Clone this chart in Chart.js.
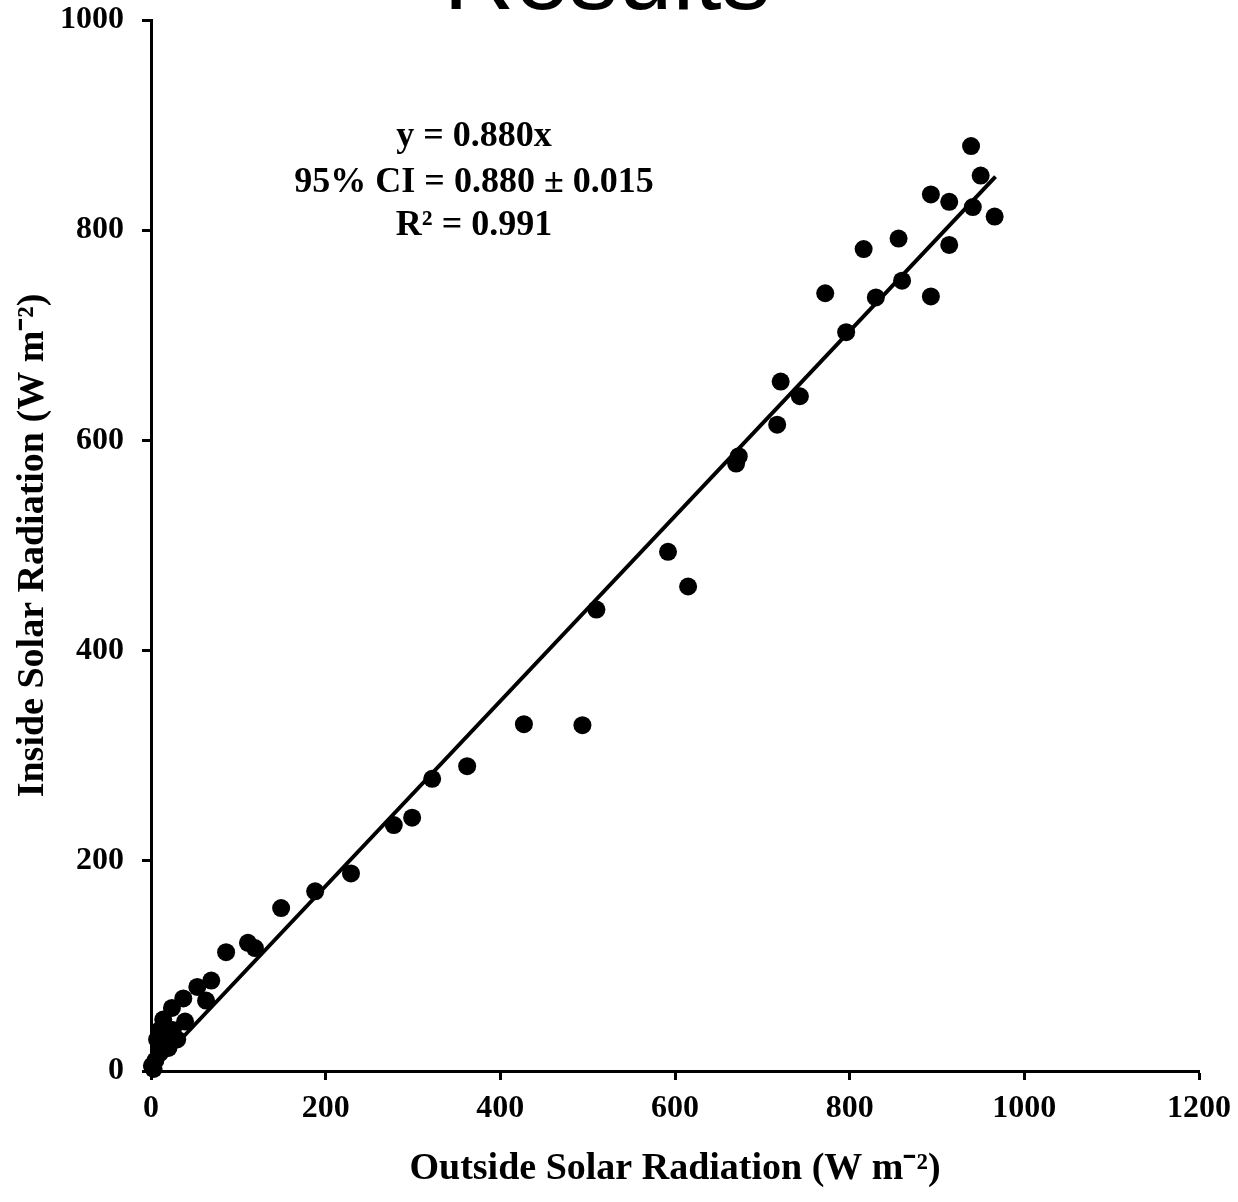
<!DOCTYPE html>
<html>
<head>
<meta charset="utf-8">
<script src="https://cdn.jsdelivr.net/npm/chart.js@4/dist/chart.umd.min.js"></script>
<style>
  html, body { margin: 0; padding: 0; background: #fff; }
  #wrap { width: 1238px; height: 1202px; position: relative; }
</style>
</head>
<body>
<div id="wrap"><canvas id="c" width="1238" height="1202"></canvas></div>
<script>
// ---- data ----
const outsideRad = [939, 950, 893, 914, 941, 966, 856, 816, 914, 772, 830, 860, 893, 796,
  721, 743, 717, 670, 673, 592, 615, 510, 427, 494, 362, 322, 299, 278, 229, 188, 149,
  111, 119, 86, 69, 53, 63, 37, 24, 39, 14, 10, 25, 7, 18, 10, 1, 3, 30, 20, 5, 15];
const insideRad = [880, 852, 834, 827, 822, 813, 792, 782, 786, 740, 736, 752, 737, 703,
  656, 642, 615, 578, 585, 494, 461, 439, 330, 329, 290, 278, 241, 234, 188, 171, 155,
  122, 117, 113, 86, 80, 67, 69, 60, 47, 49, 39, 39, 30, 27, 17, 5, 2, 30, 22, 10, 35];
const fitX = [0, 967];
const slope = 0.880;
const xTicks = [0, 200, 400, 600, 800, 1000, 1200];
const yTicks = [0, 200, 400, 600, 800, 1000];
const annotationLines = ['y = 0.880x', '95% CI = 0.880 \u00B1 0.015', 'R\u00B2 = 0.991'];
const chartTitle = 'Results';
const xTitle = 'Outside Solar Radiation (W m\u207B\u00B2)';
const yTitle = 'Inside Solar Radiation (W m\u207B\u00B2)';

const points = outsideRad.map((x, i) => ({ x: x, y: insideRad[i] }));
const fitLine = fitX.map(x => ({ x: x, y: slope * x }));

const SERIF = "'Liberation Serif', 'Times New Roman', serif";

const overlay = {
  id: 'overlay',
  afterDraw(chart) {
    const ctx = chart.ctx;
    ctx.save();
    ctx.fillStyle = '#000';
    ctx.textAlign = 'center';
    ctx.textBaseline = 'alphabetic';
    ctx.font = "98px 'Liberation Sans', Arial, sans-serif";
    ctx.fillText(chartTitle, 607, 9);
    ctx.font = 'bold 36px ' + SERIF;
    ctx.textBaseline = 'middle';
    const ys = [137, 183, 226];
    annotationLines.forEach((t, i) => ctx.fillText(t, 474, ys[i]));
    ctx.restore();
  }
};

new Chart(document.getElementById('c'), {
  type: 'scatter',
  data: {
    datasets: [
      {
        type: 'line',
        data: fitLine,
        borderColor: '#000',
        borderWidth: 4,
        pointRadius: 0,
        fill: false,
        clip: false,
        order: 2
      },
      {
        data: points,
        backgroundColor: '#000',
        borderColor: '#000',
        borderWidth: 0,
        pointRadius: 9,
        pointHoverRadius: 9,
        clip: false,
        order: 1
      }
    ]
  },
  options: {
    responsive: false,
    animation: false,
    events: [],
    layout: { padding: { top: 20, right: 39, left: 0, bottom: 0 } },
    plugins: { legend: { display: false }, tooltip: { enabled: false } },
    scales: {
      x: {
        type: 'linear',
        min: 0, max: 1200,
        afterBuildTicks: s => { s.ticks = xTicks.map(v => ({ value: v })); },
        afterFit: s => { s.height = 131; s.paddingLeft = 0; s.paddingRight = 0; },
        border: { display: true, color: '#000', width: 3 },
        grid: { display: true, drawOnChartArea: false, drawTicks: true, tickLength: 9, tickWidth: 3, tickColor: '#000' },
        ticks: { color: '#000', padding: 10, maxRotation: 0, callback: v => String(v), font: { family: SERIF, size: 32, weight: 'bold' } },
        title: { display: true, text: xTitle, color: '#000', padding: { top: 0, bottom: 10 }, font: { family: SERIF, size: 38, weight: 'bold' } }
      },
      y: {
        type: 'linear',
        min: 0, max: 1000,
        afterBuildTicks: s => { s.ticks = yTicks.map(v => ({ value: v })); },
        afterFit: s => { s.width = 151; s.paddingTop = 0; s.paddingBottom = 0; },
        border: { display: true, color: '#000', width: 3 },
        grid: { display: true, drawOnChartArea: false, drawTicks: true, tickLength: 9, tickWidth: 3, tickColor: '#000' },
        ticks: { color: '#000', padding: 18, callback: v => String(v), font: { family: SERIF, size: 32, weight: 'bold' } },
        title: { display: true, text: yTitle, color: '#000', padding: { top: 10, bottom: 0 }, font: { family: SERIF, size: 38, weight: 'bold' } }
      }
    }
  },
  plugins: [overlay]
});
</script>
</body>
</html>
